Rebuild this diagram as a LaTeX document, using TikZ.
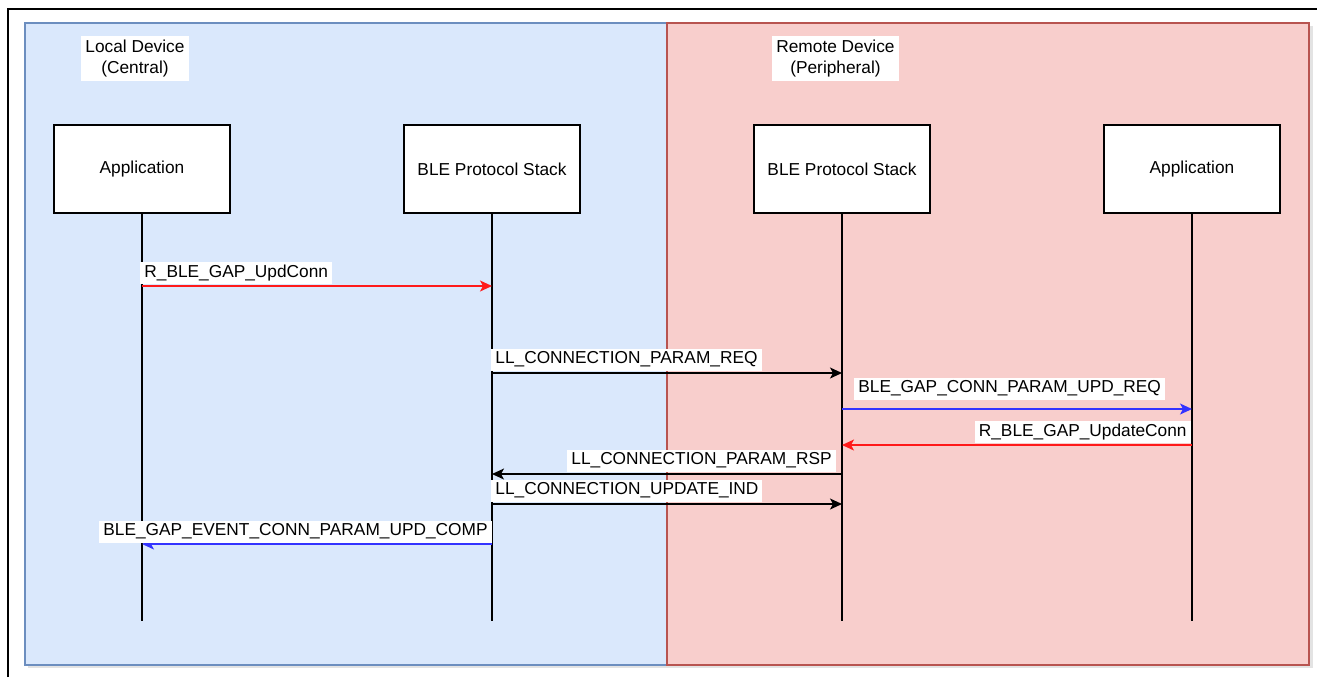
\documentclass[tikz,border=0pt]{standalone}
\usepackage{fontspec}
\setmainfont{Liberation Sans}
\usetikzlibrary{arrows.meta}
\definecolor{localfill}{HTML}{DAE8FC}
\definecolor{localline}{HTML}{6C8EBF}
\definecolor{remotefill}{HTML}{F8CECC}
\definecolor{remoteline}{HTML}{B85450}
\definecolor{callred}{HTML}{FF1A1A}
\definecolor{callblue}{HTML}{3333FF}

\begin{document}
\begin{tikzpicture}[x=0.5pt, y=-0.5pt,
  every node/.style={font=\fontsize{8.65}{10.5}\selectfont},
  actor/.style={draw, fill=white, line width=0.6pt, minimum width=88pt, minimum height=44pt, inner sep=0pt},
  lifeline/.style={line width=0.6pt},
  msg/.style={line width=0.6pt, -{Stealth[length=6pt, width=5.5pt, inset=1.5pt]}},
  msglabel/.style={fill=white, inner xsep=2pt, inner ysep=0pt, minimum height=11pt},
  devlabel/.style={fill=white, align=center, inner xsep=2pt, inner ysep=2pt}]
  \useasboundingbox (0,0) rectangle (1317,677);
  \draw[line width=1.25pt] (8,677) -- (8,9) -- (1317,9);
  % the two devices
  \fill[gray!22] (28,26) rectangle (1313,668);
  \draw[localline, fill=localfill, line width=0.6pt] (25,23) rectangle (667,665);
  \draw[remoteline, fill=remotefill, line width=0.6pt] (667,23) rectangle (1309,665);
  \node[devlabel] (local) at (135,58.5) {Local Device\\(Central)};
  \node[devlabel] (remote) at (835.5,58.5) {Remote Device\\(Peripheral)};
  % actors and lifelines
  \node[actor] (appL) at (142,169) {Application};
  \node[actor] (stackL) at (492,169) {BLE Protocol Stack};
  \node[actor] (stackR) at (842,169) {BLE Protocol Stack};
  \node[actor] (appR) at (1192,169) {Application};
  \foreach \a in {appL, stackL, stackR, appR} {
    \coordinate (\a end) at (\a |- 0,621);
    \draw[lifeline] (\a.south) -- (\a end);
  }
  % messages
  \coordinate (m1s) at (appL |- 0,286);   \coordinate (m1e) at (stackL |- 0,286);
  \coordinate (m2s) at (stackL |- 0,373); \coordinate (m2e) at (stackR |- 0,373);
  \coordinate (m3s) at (stackR |- 0,409); \coordinate (m3e) at (appR |- 0,409);
  \coordinate (m4s) at (appR |- 0,445);   \coordinate (m4e) at (stackR |- 0,445);
  \coordinate (m5s) at (stackR |- 0,474); \coordinate (m5e) at (stackL |- 0,474);
  \coordinate (m6s) at (stackL |- 0,504); \coordinate (m6e) at (stackR |- 0,504);
  \coordinate (m7s) at (stackL |- 0,544); \coordinate (m7e) at (appL |- 0,544);
  \draw[msg, callred] (m1s) -- (m1e);
  \draw[msg] (m2s) -- (m2e);
  \draw[msg, callblue] (m3s) -- (m3e);
  \draw[msg, callred] (m4s) -- (m4e);
  \draw[msg] (m5s) -- (m5e);
  \draw[msg] (m6s) -- (m6e);
  \draw[msg, callblue] (m7s) -- (m7e);
  \node[msglabel, anchor=south west] (m1lbl) at (140,284) {R\_BLE\_GAP\_UpdConn};
  \node[msglabel, anchor=south west] (m2lbl) at (491,371) {LL\_CONNECTION\_PARAM\_REQ};
  \node[msglabel, anchor=south west] (m3lbl) at (854,400) {BLE\_GAP\_CONN\_PARAM\_UPD\_REQ};
  \node[msglabel, anchor=south east] (m4lbl) at (1191,443) {R\_BLE\_GAP\_UpdateConn};
  \node[msglabel, anchor=south east] (m5lbl) at (836,472) {LL\_CONNECTION\_PARAM\_RSP};
  \node[msglabel, anchor=south west] (m6lbl) at (491,502) {LL\_CONNECTION\_UPDATE\_IND};
  \node[msglabel, anchor=south east] (m7lbl) at (492,543) {BLE\_GAP\_EVENT\_CONN\_PARAM\_UPD\_COMP};
\end{tikzpicture}
\end{document}
